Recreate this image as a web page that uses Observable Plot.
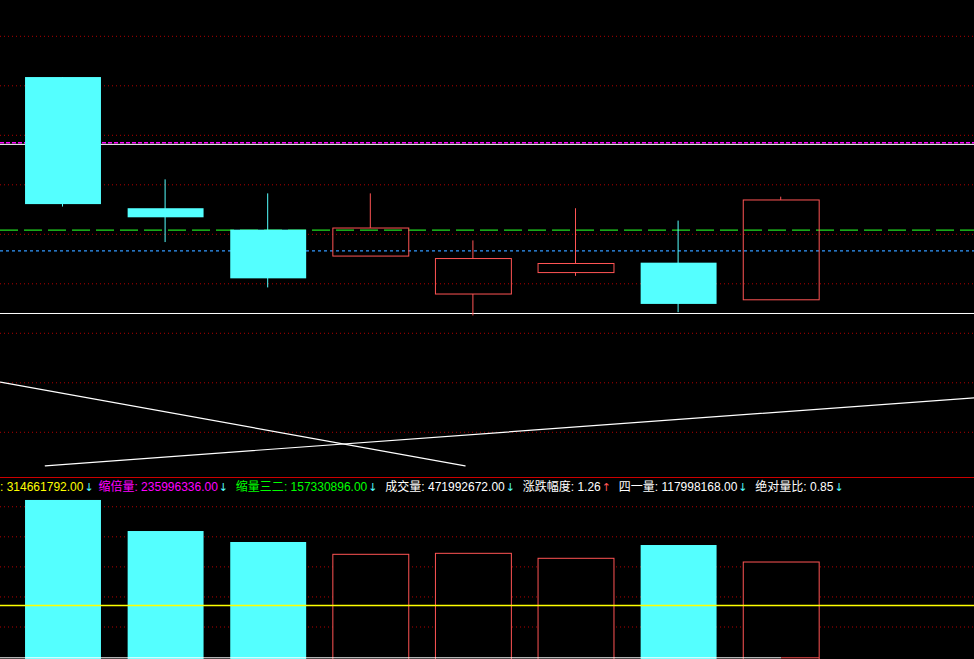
<!DOCTYPE html>
<html><head><meta charset="utf-8">
<script src="https://cdn.jsdelivr.net/npm/d3@7"></script>
<script src="https://cdn.jsdelivr.net/npm/@observablehq/plot@0.6"></script>
<style>
html,body{margin:0;padding:0;background:#000;width:974px;height:659px;overflow:hidden;}
#info{height:17px;line-height:15px;font-size:12px;white-space:nowrap;display:flex;gap:10px;font-family:"Noto Sans CJK SC",sans-serif;}
#info > span:first-child{margin-right:-3px;}
#info .num{font-family:"Liberation Sans",sans-serif;font-size:12px;}
#info .arr{font-family:"DejaVu Sans",sans-serif;font-size:11px;display:inline-block;width:7px;margin-left:1px;text-align:center;}
svg{display:block}
</style></head><body>
<div id="price"></div><div id="info"></div><div id="vol"></div>
<script>
// ---- data ----
const days   = [0, 1, 2, 3, 4, 5, 6, 7];
const open   = [10.250, 10.091, 10.065, 10.033, 9.987, 10.013, 10.025, 9.980];
const high   = [10.250, 10.126, 10.109, 10.109, 10.052, 10.091, 10.076, 10.105];
const low    = [10.093, 10.050, 9.995, 10.033, 9.961, 10.009, 9.965, 9.980];
const close  = [10.096, 10.080, 10.006, 10.067, 10.030, 10.024, 9.975, 10.101];
const volume = [699e6, 585.4e6, 545.2e6, 500.2e6, 503.8e6, 485.6e6, 534.2e6, 471992672];

const priceGrid = [9.82, 9.88, 9.94, 10.00, 10.06, 10.12, 10.18, 10.24, 10.30];
const volGrid   = [236e6, 346e6, 456e6, 566e6, 676e6];
const magentaLevel = 10.171;
const whiteLevel   = 10.169;
const greenLevel   = 10.065;
const blueLevel    = 10.040;
const baseLevel    = 9.964;
const lineA = [{i: -0.614, p: 9.8807}, {i: 3.914, p: 9.7794}];
const lineB = [{i: -0.178, p: 9.7794}, {i: 8.879, p: 9.8618}];
const yellowLevel = 314661792;
const cursorLevel = 123.3e6;

const infoLabels = ["", "缩倍量", "缩量三二", "成交量", "涨跌幅度", "四一量", "绝对量比"];
const infoValues = ["314661792.00", "235996336.00", "157330896.00", "471992672.00", "1.26", "117998168.00", "0.85"];
const infoDirs   = ["down", "down", "down", "down", "up", "down", "down"];

// ---- styles ----
const CYAN = "#54ffff", RED = "#ff5454";
const infoColors = ["#ffff00", "#ff00ff", "#00ff00", "#ffffff", "#ffffff", "#ffffff", "#ffffff"];
const HALF = 0.37;
const xDomain = [-0.614, 8.879];

const candles = days.map(i => ({i, o: open[i], h: high[i], l: low[i], c: close[i], v: volume[i]}));
const up = candles.filter(d => d.c >= d.o);
const down = candles.filter(d => d.c < d.o);

const pricePlot = Plot.plot({
  width: 974, height: 478, margin: 0,
  style: {background: "#000"},
  x: {type: "linear", domain: xDomain, range: [0, 974], axis: null},
  y: {domain: [9.7652, 10.3434], range: [477, 0], axis: null},
  marks: [
    Plot.ruleY(priceGrid, {stroke: "#b00000", strokeDasharray: "1,3"}),
    Plot.ruleY([magentaLevel], {stroke: "#ff00ff", strokeDasharray: "4,2", strokeWidth: 1.3}),
    Plot.ruleY([whiteLevel], {stroke: "#ffffff"}),
    Plot.ruleY([greenLevel], {stroke: "#22dd22", strokeDasharray: "18,6", strokeWidth: 1.2}),
    Plot.ruleY([blueLevel], {stroke: "#3399ff", strokeDasharray: "3,3", strokeWidth: 1.2}),
    Plot.ruleY([baseLevel], {stroke: "#ffffff"}),
    Plot.line(lineA, {x: "i", y: "p", stroke: "#ffffff", strokeWidth: 1.2}),
    Plot.line(lineB, {x: "i", y: "p", stroke: "#ffffff", strokeWidth: 1.2}),
    Plot.ruleX(down, {x: "i", y1: "l", y2: "h", stroke: CYAN, dx: -1}),
    Plot.rect(down, {x1: d => d.i - HALF, x2: d => d.i + HALF, y1: "o", y2: "c", fill: CYAN}),
    Plot.ruleX(up, {x: "i", y1: "c", y2: "h", stroke: RED, dx: -1}),
    Plot.ruleX(up, {x: "i", y1: "l", y2: "o", stroke: RED, dx: -1}),
    Plot.rect(up, {x1: d => d.i - HALF, x2: d => d.i + HALF, y1: "o", y2: "c", fill: "none", stroke: RED}),
    Plot.ruleY([9.7652], {stroke: "#cc0000"})
  ]
});
document.getElementById("price").append(pricePlot);

const info = document.getElementById("info");
infoLabels.forEach((lab, k) => {
  const item = document.createElement("span");
  item.style.color = infoColors[k];
  if (lab) {
    const l = document.createElement("span"); l.textContent = lab; item.append(l);
  }
  const n = document.createElement("span"); n.className = "num"; n.textContent = ": " + infoValues[k]; item.append(n);
  const a = document.createElement("span"); a.className = "arr";
  a.textContent = infoDirs[k] === "up" ? "↑" : "↓";
  a.style.color = infoDirs[k] === "up" ? RED : CYAN;
  item.append(a);
  info.append(item);
});

const volPlot = Plot.plot({
  width: 974, height: 164, margin: 0,
  style: {background: "#000"},
  x: {type: "linear", domain: xDomain, range: [0, 974], axis: null},
  y: {domain: [117.1e6, 717.2e6], range: [164, 0], axis: null},
  marks: [
    Plot.ruleY(volGrid, {stroke: "#b00000", strokeDasharray: "1,3"}),
    Plot.rect(down, {x1: d => d.i - HALF, x2: d => d.i + HALF, y1: () => 0, y2: "v", fill: CYAN, clip: true}),
    Plot.rect(up, {x1: d => d.i - HALF, x2: d => d.i + HALF, y1: () => 0, y2: "v", fill: "#000", stroke: RED, clip: true}),
    Plot.ruleY([yellowLevel], {stroke: "#ffff00", strokeWidth: 1.3}),
    Plot.ruleY([cursorLevel], {x1: xDomain[0], x2: 7, stroke: "#ffffff"}),
    Plot.ruleY([cursorLevel], {x1: 7, x2: 7 + HALF, stroke: RED})
  ]
});
document.getElementById("vol").append(volPlot);
</script>
</body></html>
